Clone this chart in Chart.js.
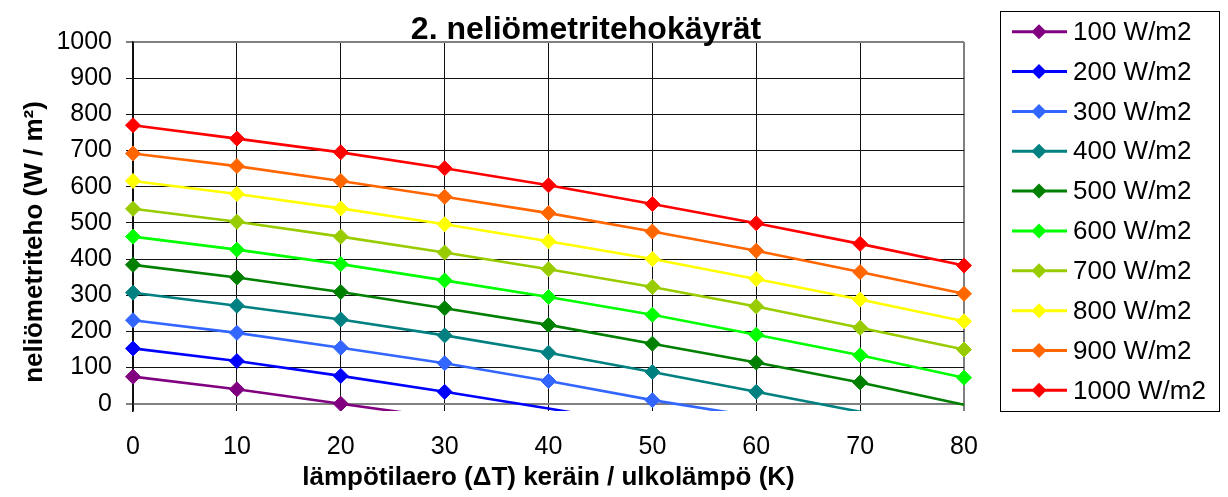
<!DOCTYPE html>
<html lang="fi">
<head>
<meta charset="utf-8">
<title>2. neliömetritehokäyrät</title>
<script src="https://cdn.jsdelivr.net/npm/chart.js@4.4.1/dist/chart.umd.min.js"></script>
<style>
  html, body { margin: 0; padding: 0; background: #fff; }
  #wrap { width: 1228px; height: 497px; position: relative; }
</style>
</head>
<body>
<div id="wrap"><canvas id="chart"></canvas></div>
<script>
// Chart data
const categories = [0, 10, 20, 30, 40, 50, 60, 70, 80];
const yTicks = [0, 100, 200, 300, 400, 500, 600, 700, 800, 900, 1000];

const chartTitle = '2. neliömetritehokäyrät';
const xTitle = 'lämpötilaero (ΔT) keräin / ulkolämpö (K)';
const yTitle = 'neliömetriteho (W / m²)';

const seriesLabels = ['100 W/m2', '200 W/m2', '300 W/m2', '400 W/m2', '500 W/m2',
    '600 W/m2', '700 W/m2', '800 W/m2', '900 W/m2', '1000 W/m2'];
const seriesColors = ['#800080', '#0000ff', '#3366ff', '#008080', '#008000',
    '#00ff00', '#99cc00', '#ffff00', '#ff6600', '#ff0000'];

const s100 = [75, 40, 0, -40, -88, -140, -195, -252, -312];
const s200 = [153, 118, 77, 33, -13, -62, -115, -172, -232];
const s300 = [231, 196, 155, 112, 63, 10, -36, -93, -153];
const s400 = [307, 271, 233, 189, 141, 88, 33, -22, -82];
const s500 = [384, 349, 309, 264, 218, 166, 114, 59, -3];
const s600 = [462, 426, 386, 341, 295, 246, 191, 134, 72];
const s700 = [539, 503, 462, 418, 372, 323, 269, 210, 150];
const s800 = [616, 580, 540, 496, 449, 400, 345, 288, 228];
const s900 = [692, 657, 616, 572, 527, 476, 423, 364, 304];
const s1000 = [770, 733, 695, 651, 604, 552, 499, 442, 382];
const seriesValues = [s100, s200, s300, s400, s500, s600, s700, s800, s900, s1000];

const FONT = "'Liberation Sans', Arial, sans-serif";

// Chart title + y axis title (Excel places both a bit off the plot centre)
const titlePlugin = {
    id: 'chartTitle',
    afterDraw(chart) {
        const ctx = chart.ctx;
        ctx.save();
        ctx.font = `bold 32px ${FONT}`;
        ctx.fillStyle = '#000';
        ctx.textAlign = 'center';
        ctx.textBaseline = 'alphabetic';
        ctx.fillText(chartTitle, 586, 39);

        ctx.translate(42, 242);
        ctx.rotate(-Math.PI / 2);
        ctx.font = `bold 26px ${FONT}`;
        ctx.fillText(yTitle, 0, 0);
        ctx.restore();
    }
};

// Boxed legend on the right side
const legendPlugin = {
    id: 'boxLegend',
    afterDraw(chart) {
        const ctx = chart.ctx;
        ctx.save();
        ctx.strokeStyle = '#000';
        ctx.lineWidth = 1;
        ctx.strokeRect(1000.5, 11.5, 219, 400);

        chart.data.datasets.forEach((ds, i) => {
            const y = 31.7 + i * 39.85;
            ctx.strokeStyle = ds.borderColor;
            ctx.lineWidth = 3;
            ctx.beginPath();
            ctx.moveTo(1012, y);
            ctx.lineTo(1067, y);
            ctx.stroke();

            // diamond marker
            ctx.fillStyle = ds.backgroundColor;
            ctx.beginPath();
            ctx.moveTo(1039, y - 7.5);
            ctx.lineTo(1046.5, y);
            ctx.lineTo(1039, y + 7.5);
            ctx.lineTo(1031.5, y);
            ctx.closePath();
            ctx.fill();

            ctx.fillStyle = '#000';
            ctx.font = `26px ${FONT}`;
            ctx.textAlign = 'left';
            ctx.textBaseline = 'middle';
            ctx.fillText(ds.label, 1073, y + 1);
        });
        ctx.restore();
    }
};

const isEdge = v => v === 0 || v === 1000;

new Chart(document.getElementById('chart'), {
    type: 'line',
    data: {
        labels: categories,
        datasets: seriesValues.map((vals, i) => ({
            label: seriesLabels[i],
            data: vals,
            borderColor: seriesColors[i],
            backgroundColor: seriesColors[i],
            borderWidth: 2.6,
            tension: 0,
            pointStyle: 'rectRot',
            pointRadius: c => (c.raw < 0 ? 0 : 7.5),
            pointHoverRadius: 7.5,
            pointBorderWidth: 1,
            clip: { left: 10, right: 10, top: 0, bottom: 0 }
        }))
    },
    options: {
        responsive: true,
        maintainAspectRatio: false,
        animation: false,
        events: [],
        layout: { padding: { top: 42, right: 264, left: 0, bottom: 0 } },
        plugins: {
            legend: { display: false },
            tooltip: { enabled: false }
        },
        scales: {
            x: {
                type: 'category',
                offset: false,
                grid: {
                    color: c => (c.index === 8 ? '#808080' : '#111'),
                    lineWidth: c => (c.index === 8 ? 2 : 1),
                    drawTicks: false
                },
                border: { display: false },
                ticks: {
                    color: '#000',
                    font: { family: FONT, size: 25 },
                    padding: 21,
                    maxRotation: 0,
                    autoSkip: false
                },
                title: {
                    display: true,
                    text: xTitle,
                    color: '#000',
                    font: { family: FONT, size: 26, weight: 'bold' },
                    padding: { top: 0, bottom: 4 }
                },
                afterFit: s => { s.height = 86; }
            },
            y: {
                min: -20,
                max: 1000,
                afterBuildTicks: s => { s.ticks = yTicks.map(v => ({ value: v })); },
                grid: {
                    color: c => (isEdge(c.tick.value) ? '#808080' : '#111'),
                    lineWidth: c => (isEdge(c.tick.value) ? 2 : 1),
                    tickLength: 7
                },
                border: { display: true, color: '#111', width: 1.5 },
                ticks: {
                    color: '#000',
                    font: { family: FONT, size: 25 },
                    padding: 14,
                    callback: v => String(v)
                },
                afterFit: s => { s.width = 133; }
            }
        }
    },
    plugins: [titlePlugin, legendPlugin]
});
</script>
</body>
</html>
